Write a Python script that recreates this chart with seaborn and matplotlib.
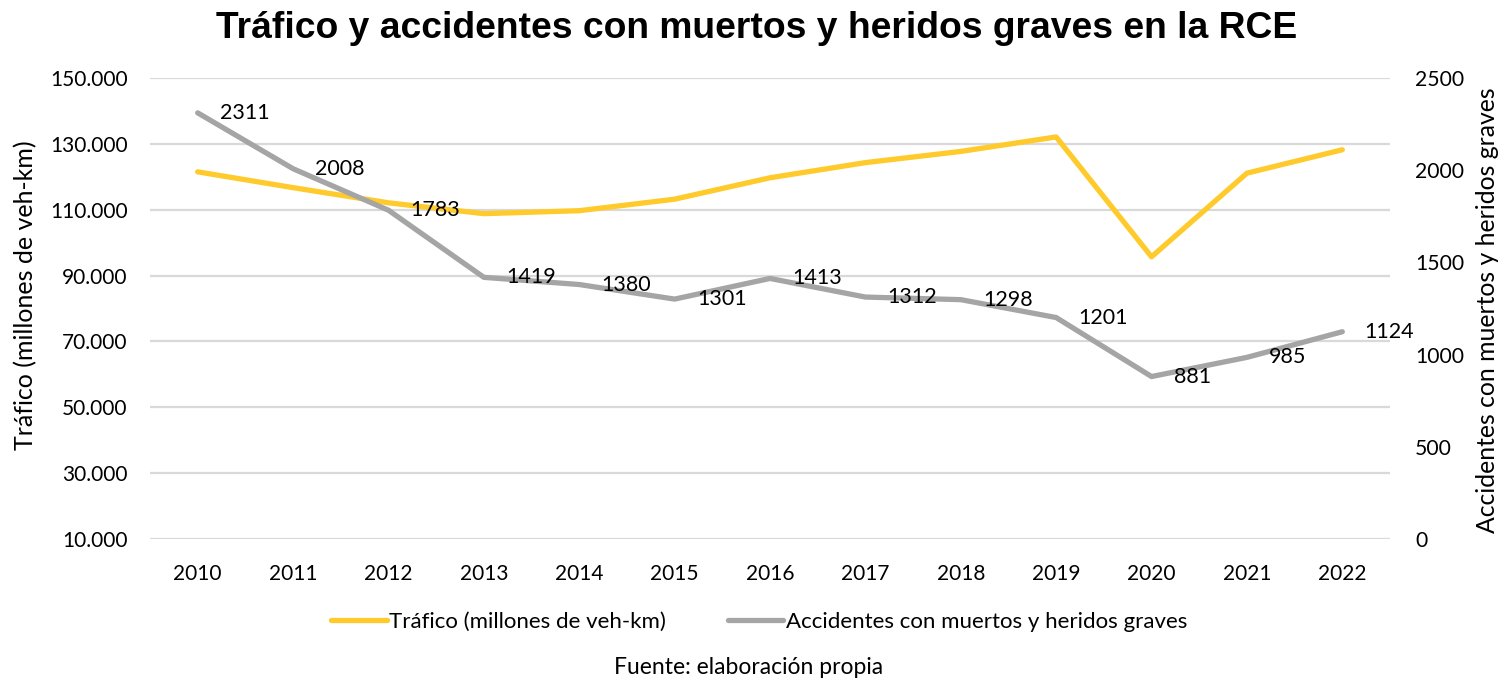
import matplotlib
matplotlib.use('Agg')
import matplotlib.pyplot as plt
import seaborn as sns
from matplotlib.ticker import FuncFormatter, FixedLocator, MultipleLocator

# ==========================================
# DATA
# ==========================================
years = [2010, 2011, 2012, 2013, 2014, 2015, 2016, 2017, 2018, 2019, 2020, 2021, 2022]
traffic = [121500, 116700, 112100, 108800, 109700, 113200, 119700, 124300, 127700, 132100, 95700, 121100, 128200]
accidents = [2311, 2008, 1783, 1419, 1380, 1301, 1413, 1312, 1298, 1201, 881, 985, 1124]
left_ticks = [10000, 30000, 50000, 70000, 90000, 110000, 130000, 150000]

title = 'Tráfico y accidentes con muertos y heridos graves en la RCE'
traffic_label = 'Tráfico (millones de veh-km)'
accidents_label = 'Accidentes con muertos y heridos graves'
source_text = 'Fuente: elaboración propia'

YELLOW = '#FFCA2C'
GRAY = '#A5A5A5'
GRID = '#D9D9D9'

sns.set_theme(style='white')
plt.rcParams['font.family'] = ['Lato', 'DejaVu Sans']
plt.rcParams['text.color'] = 'black'

fig = plt.figure(figsize=(15.03, 6.81), dpi=100)
ax = fig.add_axes([150 / 1503, 1 - 539 / 681, 1240 / 1503, 461 / 681])
ax2 = ax.twinx()

sns.lineplot(x=years, y=traffic, ax=ax, color=YELLOW, lw=3.8, label=traffic_label, legend=False)
sns.lineplot(x=years, y=accidents, ax=ax2, color=GRAY, lw=3.8, label=accidents_label, legend=False)

# left axis
ax.set_xlim(2009.5, 2022.5)
ax.set_ylim(10000, 150000)
ax.yaxis.set_major_locator(FixedLocator(left_ticks))
ax.yaxis.set_major_formatter(FuncFormatter(lambda v, p: f'{int(v):,}'.replace(',', '.')))
ax.set_xticks(years)
ax.set_xticklabels([str(y) for y in years])
ax.grid(axis='y', color=GRID, lw=1.6)
ax.set_axisbelow(True)
ax.tick_params(axis='both', labelsize=15, length=0, colors='black')
ax.tick_params(axis='x', pad=18)
ax.tick_params(axis='y', pad=16)
ax.set_ylabel('')

# right axis
ax2.set_ylim(0, 2500)
ax2.yaxis.set_major_locator(MultipleLocator(500))
ax2.tick_params(axis='y', labelsize=15.2, length=0, colors='black', pad=18)
ax2.grid(False)
ax2.set_ylabel('')

for a in (ax, ax2):
    for s in a.spines.values():
        s.set_visible(False)

# data labels for the accidents series
for x, v in zip(years, accidents):
    ax2.annotate(str(v), (x, v), xytext=(16, 0), textcoords='offset points',
                 ha='left', va='center', fontsize=15.5, color='black')

fig.text(0.017, 1 - 295 / 681, traffic_label, rotation=90, ha='center', va='center', fontsize=18)
fig.text(0.990, 1 - 310 / 681, accidents_label, rotation=90, ha='center', va='center', fontsize=17.8)

fig.text(0.5037, 0.958, title, ha='center', va='center', fontsize=26.8, weight='bold',
         family=['Liberation Sans', 'DejaVu Sans'])

h1, l1 = ax.get_legend_handles_labels()
h2, l2 = ax2.get_legend_handles_labels()
fig.legend(h1 + h2, l1 + l2, loc='center', bbox_to_anchor=(0.505, 1 - 622 / 681), ncol=2,
           frameon=False, fontsize=16, handlelength=2.5, handletextpad=0.1, columnspacing=2.8)

fig.text(0.498, 1 - 667 / 681, source_text, ha='center', va='center', fontsize=16.5)

plt.savefig('out.png', dpi=100)
plt.close()
